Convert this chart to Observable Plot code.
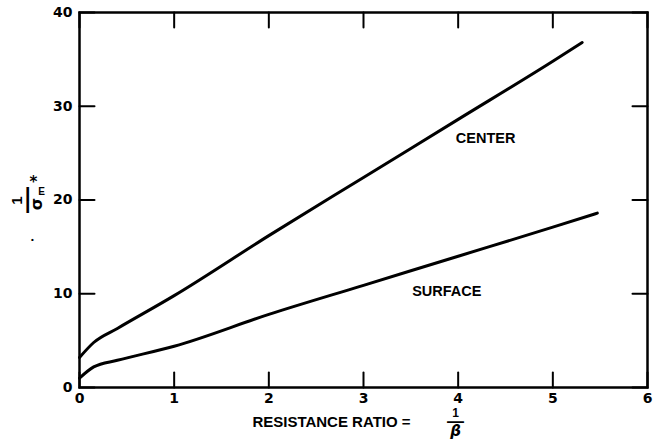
<!DOCTYPE html>
<html><head><meta charset="utf-8">
<script src="https://cdn.jsdelivr.net/npm/d3@7"></script>
<script src="https://cdn.jsdelivr.net/npm/@observablehq/plot@0.6"></script>
<style>body{margin:0;background:#fff} svg{display:block}</style>
</head><body><div id="chart"></div>
<script>
// Resistance ratio (1/beta) and -1/sigma_E* for the two curves
const centerX  = [0, 0.15, 0.4, 1, 2, 3, 4, 5, 5.31];
const centerY  = [3.2, 4.8, 6.3, 9.8, 16.2, 22.4, 28.6, 34.8, 36.8];
const surfaceX = [0, 0.15, 0.4, 1, 2, 3, 4, 5, 5.47];
const surfaceY = [1.0, 2.2, 2.9, 4.4, 7.8, 10.9, 14.0, 17.1, 18.6];
const xTicks = [0, 1, 2, 3, 4, 5, 6];
const yTicks = [0, 10, 20, 30, 40];
const curveNames = ["CENTER", "SURFACE"];

const center = centerX.map((x, i) => ({x, y: centerY[i]}));
const surface = surfaceX.map((x, i) => ({x, y: surfaceY[i]}));

const W = 664, H = 445, mL = 79, mR = 17, mT = 12, mB = 58;
const fw = W - mL - mR, fh = H - mT - mB, tk = 15;
const xDom = [0, 6], yDom = [0, 40];
const kx = (xDom[1] - xDom[0]) / fw, ky = (yDom[1] - yDom[0]) / fh; // data units per pixel
const word = "Liberation Sans";
const lab = {textAnchor: "middle", lineAnchor: "middle", fontWeight: "bold"};

// inward tick segments as short paths
const segX = side => xTicks.flatMap(v => [
  {x: v, y: side === "bottom" ? yDom[0] : yDom[1], k: side + v},
  {x: v, y: side === "bottom" ? yDom[0] + tk * ky : yDom[1] - tk * ky, k: side + v}]);
const segY = side => yTicks.flatMap(v => [
  {x: side === "left" ? xDom[0] : xDom[1], y: v, k: side + v},
  {x: side === "left" ? xDom[0] + tk * kx : xDom[1] - tk * kx, y: v, k: side + v}]);
const tickSegs = [...segX("bottom"), ...segX("top"), ...segY("left"), ...segY("right")];

const chart = Plot.plot({
  width: W, height: H,
  marginLeft: mL, marginRight: mR, marginTop: mT, marginBottom: mB,
  x: {domain: xDom},
  y: {domain: yDom},
  style: {fontFamily: "DejaVu Sans", fontWeight: "bold", fontSize: "14px", color: "#000", background: "#fff"},
  marks: [
    Plot.line(center, {x: "x", y: "y", stroke: "#000", strokeWidth: 3, curve: "monotone-x"}),
    Plot.line(surface, {x: "x", y: "y", stroke: "#000", strokeWidth: 3, curve: "monotone-x"}),
    Plot.frame({stroke: "#000", strokeWidth: 2.5}),
    Plot.line(tickSegs, {x: "x", y: "y", z: "k", stroke: "#000", strokeWidth: 2}),
    Plot.axisX(xTicks, {anchor: "bottom", tickSize: 0, tickPadding: 6, label: null}),
    Plot.axisY(yTicks, {anchor: "left", tickSize: 0, tickPadding: 7, label: null}),
    Plot.text(curveNames, {x: [4.29, 3.88], y: [26.6, 10.3], ...lab, fontFamily: word, fontSize: 14.5, letterSpacing: 1.8}),
    // x-axis title: RESISTANCE RATIO = 1/beta
    Plot.text(["RESISTANCE RATIO ="], {frameAnchor: "bottom", dx: -32, dy: 35, ...lab, fontFamily: word, fontSize: 15, letterSpacing: 1.6}),
    Plot.text(["1"], {frameAnchor: "bottom", dx: 92, dy: 26, ...lab, fontFamily: word, fontSize: 12}),
    Plot.text(["—"], {frameAnchor: "bottom", dx: 92, dy: 34, ...lab, fontFamily: word, fontSize: 17}),
    Plot.text(["β"], {frameAnchor: "bottom", dx: 92, dy: 44, ...lab, fontFamily: "DejaVu Sans", fontStyle: "italic", fontSize: 15}),
    // y-axis title: 1 / sigma_E*
    Plot.text(["1"], {frameAnchor: "left", dx: -62, dy: 0.5, rotate: -90, ...lab, fontFamily: word, fontSize: 15}),
    Plot.text(["—"], {frameAnchor: "left", dx: -53, dy: 0, rotate: -90, ...lab, fontFamily: word, fontSize: 26}),
    Plot.text(["σ"], {frameAnchor: "left", dx: -43, dy: 4, rotate: -90, ...lab, fontFamily: "DejaVu Sans", fontSize: 16}),
    Plot.text(["E"], {frameAnchor: "left", dx: -38, dy: -8, ...lab, fontFamily: word, fontSize: 10}),
    Plot.text(["*"], {frameAnchor: "left", dx: -46, dy: -18, ...lab, fontFamily: "DejaVu Sans", fontSize: 15}),
    Plot.text(["•"], {frameAnchor: "left", dx: -47, dy: 39.5, ...lab, fontFamily: word, fontSize: 8})
  ]
});
document.getElementById("chart").append(chart);
</script>
</body></html>
